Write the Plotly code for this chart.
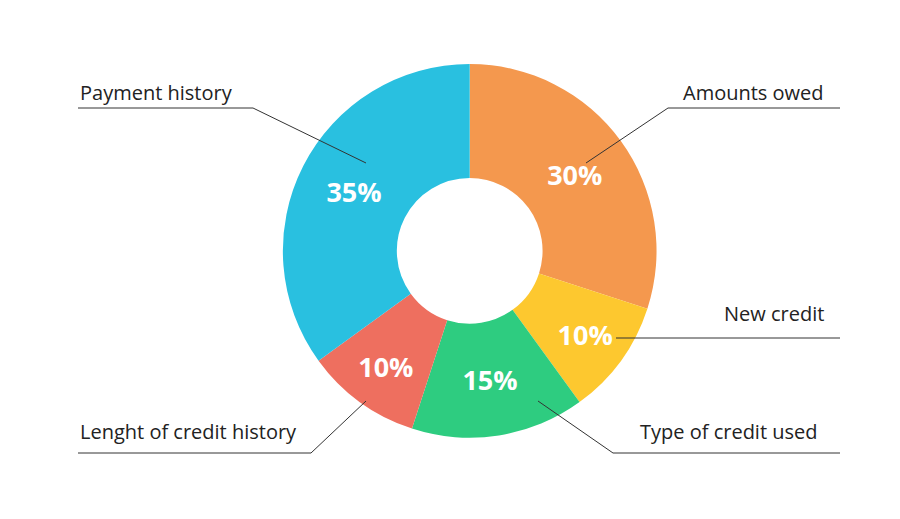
import plotly.graph_objects as go

labels = ["Amounts owed", "New credit", "Type of credit used",
          "Lenght of credit history", "Payment history"]
values = [30, 10, 15, 10, 35]
colors = ["#F4984E", "#FDC82F", "#2ECC80", "#EE6F5F", "#29C0E0"]

W, H = 900, 519

fig = go.Figure(go.Pie(
    labels=labels, values=values, sort=False, direction="clockwise",
    rotation=0, hole=0.39,
    marker=dict(colors=colors, line=dict(width=0)),
    texttemplate="%{percent:.0%}", textposition="inside",
    insidetextorientation="horizontal",
    textfont=dict(family="Open Sans", size=27, color="white", weight="bold"),
    domain=dict(x=[0.305, 0.721], y=[0.172, 0.892]),
    hoverinfo="label+percent",
))

# leader lines in pixel coords: (points), label text position, anchor
leaders = [
    ([(70, 100), (245, 100), (358, 155)], (70, 84), "left"),
    ([(832, 100), (660, 100), (578, 155)], (818, 84), "right"),
    ([(832, 330), (608, 330)], (818, 305), "right"),
    ([(832, 445), (605, 445), (530, 393)], (812, 423), "right"),
    ([(70, 445), (303, 445), (358, 393)], (70, 423), "left"),
]
order = [4, 0, 1, 2, 3]

shapes, annotations = [], []
for (pts, (tx, ty), anchor), idx in zip(leaders, order):
    path = "M " + " L ".join(f"{x / W},{1 - y / H}" for x, y in pts)
    shapes.append(dict(type="path", path=path, xref="paper", yref="paper",
                       line=dict(color="#333333", width=1)))
    annotations.append(dict(text=labels[idx], x=tx / W, y=1 - ty / H,
                            xref="paper", yref="paper", xanchor=anchor,
                            yanchor="middle", showarrow=False,
                            font=dict(family="Open Sans", size=20, color="#222222")))

fig.update_layout(
    width=W, height=H, margin=dict(l=0, r=0, t=0, b=0),
    showlegend=False, paper_bgcolor="white",
    shapes=shapes, annotations=annotations,
)

fig.write_html("out.html")
